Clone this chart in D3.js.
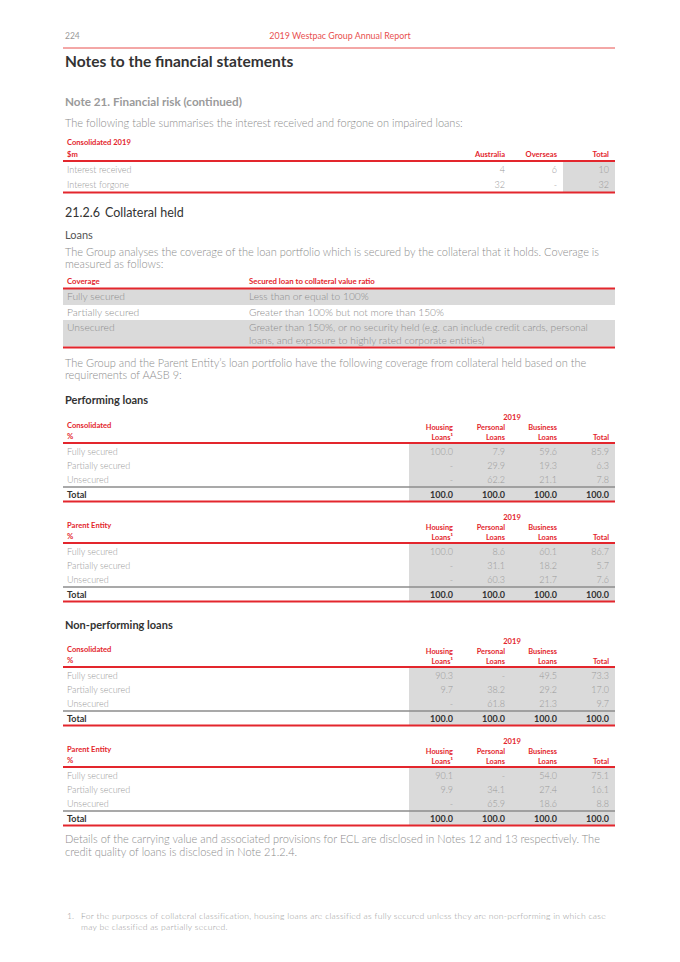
<!DOCTYPE html>
<html>
<head>
<meta charset="utf-8">
<script src="https://cdn.jsdelivr.net/npm/d3@7"></script>
<style>
  body { margin: 0; background: #fff; }
  text { font-family: Lato, "Open Sans", sans-serif; }
</style>
</head>
<body>
<div id="page"></div>
<script>
// Data
//= ================================
var interestCols = ["Australia", "Overseas", "Total"];
var interestRows = ["Interest received", "Interest forgone"];
var interestValues = [[4, 6, 10], [32, null, 32]];

var coverageTypes = ["Fully secured", "Partially secured", "Unsecured"];
var coverageRatios = [
  ["Less than or equal to 100%"],
  ["Greater than 100% but not more than 150%"],
  ["Greater than 150%, or no security held (e.g. can include credit cards, personal",
   "loans, and exposure to highly rated corporate entities)"]
];

var loanCols = ["housing", "personal", "business", "total"];
var loanColHead1 = ["Housing", "Personal", "Business", ""];
var loanColHead2 = ["Loans¹", "Loans", "Loans", "Total"];
var loanRows = ["Fully secured", "Partially secured", "Unsecured"];
var loanTotals = [100.0, 100.0, 100.0, 100.0];

var perfConsolidated = [[100.0, 7.9, 59.6, 85.9], [null, 29.9, 19.3, 6.3], [null, 62.2, 21.1, 7.8]];
var perfParent = [[100.0, 8.6, 60.1, 86.7], [null, 31.1, 18.2, 5.7], [null, 60.3, 21.7, 7.6]];
var npConsolidated = [[90.3, null, 49.5, 73.3], [9.7, 38.2, 29.2, 17.0], [null, 61.8, 21.3, 9.7]];
var npParent = [[90.1, null, 54.0, 75.1], [9.9, 34.1, 27.4, 16.1], [null, 65.9, 18.6, 8.8]];

// Page setup
//= ================================
var pageWidth = 680;
var pageHeight = 962;
var left = 65;
var right = 615;

var RED = "#e3262d";
var BODY = "#8c8c8c";
var ROWS = "#999999";
var DARK = "#333333";
var SHADE = "#dadada";

var svg = d3.select("#page")
  .append("svg")
  .attr("width", pageWidth)
  .attr("height", pageHeight);

function txt(x, y, s, size, color, weight, anchor) {
  return svg.append("text")
    .attr("x", x)
    .attr("y", y)
    .attr("font-size", size)
    .attr("fill", color)
    .attr("font-weight", weight || 400)
    .attr("text-anchor", anchor || "start")
    .text(s);
}

function hline(y, w, color) {
  svg.append("line")
    .attr("x1", left - 2)
    .attr("x2", right)
    .attr("y1", y).attr("y2", y)
    .attr("stroke", color)
    .attr("stroke-width", w);
}

var fmt1 = d3.format(".1f");
function fmtVal(v, f) { return v == null ? "-" : (f ? f(v) : String(v)); }

// Header
txt(left, 39, "224", 8.5, "#999", 400);
txt(340, 39, "2019 Westpac Group Annual Report", 8.9, "#e8504f", 400, "middle");
hline(48, 1, "#e8504f");

txt(left, 67, "Notes to the financial statements", 15.5, DARK, 700);
txt(left, 106, "Note 21. Financial risk (continued)", 11.7, "#9a9a9a", 700);
txt(left, 127, "The following table summarises the interest received and forgone on impaired loans:", 11, BODY, 300);

// Interest table
//= ================================
var xInterest = d3.scaleOrdinal().domain(interestCols).range([505, 557, 609]);
var yInterest = d3.scalePoint().domain(interestRows).range([173, 188]);

svg.append("rect")
  .attr("x", xInterest("Total") - 46).attr("y", 162)
  .attr("width", right - xInterest("Total") + 46).attr("height", 30)
  .attr("fill", SHADE);

txt(left + 2, 145, "Consolidated 2019", 7.6, RED, 700);
txt(left + 2, 157, "$m", 7.6, RED, 700);
interestCols.forEach(function(c) {
  txt(xInterest(c), 157, c, 7.6, RED, 700, "end");
});
hline(161, 2, RED);
interestRows.forEach(function(r, i) {
  txt(left + 2, yInterest(r), r, 9, ROWS, 300);
  interestCols.forEach(function(c, j) {
    txt(xInterest(c), yInterest(r), fmtVal(interestValues[i][j]), 9, ROWS, 300, "end");
  });
});
hline(192.5, 2, RED);

// Collateral held
//= ================================
txt(left, 217, "21.2.6", 12.5, DARK, 400);
txt(105, 217, "Collateral held", 12.5, DARK, 400);
txt(left, 239, "Loans", 11, "#555", 400);
txt(left, 256, "The Group analyses the coverage of the loan portfolio which is secured by the collateral that it holds. Coverage is", 11, BODY, 300);
txt(left, 268, "measured as follows:", 11, BODY, 300);

var coverageBands = [[289, 305], [305, 320], [320, 346.5]];
var shaded = [true, false, true];
coverageTypes.forEach(function(t, i) {
  if (shaded[i]) {
    svg.append("rect")
      .attr("x", left - 2).attr("y", coverageBands[i][0])
      .attr("width", right - left + 2).attr("height", coverageBands[i][1] - coverageBands[i][0])
      .attr("fill", SHADE);
  }
});
txt(left + 2, 284, "Coverage", 7.8, RED, 700);
txt(249, 284, "Secured loan to collateral value ratio", 7.8, RED, 700);
hline(288.5, 2, RED);
coverageTypes.forEach(function(t, i) {
  var yb = coverageBands[i][0] + 11.2;
  txt(left + 2, yb, t, 10.3, BODY, 300);
  coverageRatios[i].forEach(function(line, k) {
    txt(249, yb + k * 12.3, line, 10.2, BODY, 300);
  });
});
hline(347.5, 2, RED);

txt(left, 367, "The Group and the Parent Entity\u2019s loan portfolio have the following coverage from collateral held based on the", 11, BODY, 300);
txt(left, 379, "requirements of AASB 9:", 11, BODY, 300);

// Loan coverage tables
//= ================================
var xLoan = d3.scaleOrdinal().domain(loanCols).range([453, 505, 557, 609]);

function loanTable(y0, entity, values) {
  var yRow = d3.scalePoint().domain(loanRows).range([y0 + 12, y0 + 40]);

  svg.append("rect")
    .attr("x", 409).attr("y", y0 + 1)
    .attr("width", right - 409).attr("height", 57)
    .attr("fill", SHADE);

  txt(512, y0 - 23, "2019", 7.6, RED, 700, "middle");
  txt(left + 2, y0 - 15, entity, 7.6, RED, 700);
  txt(left + 2, y0 - 4, "%", 7.6, RED, 700);
  loanCols.forEach(function(c, j) {
    txt(xLoan(c), y0 - 13.5, loanColHead1[j], 7.4, RED, 700, "end");
    txt(xLoan(c), y0 - 3.5, loanColHead2[j], 7.4, RED, 700, "end");
  });
  hline(y0, 2, RED);

  loanRows.forEach(function(r, i) {
    txt(left + 2, yRow(r), r, 9, ROWS, 300);
    loanCols.forEach(function(c, j) {
      txt(xLoan(c), yRow(r), fmtVal(values[i][j], fmt1), 9, ROWS, 300, "end");
    });
  });

  hline(y0 + 44, 1.5, "#8c8c8c");
  txt(left + 2, y0 + 54.5, "Total", 9, DARK, 700);
  loanCols.forEach(function(c, j) {
    txt(xLoan(c), y0 + 54.5, fmt1(loanTotals[j]), 9, DARK, 700, "end");
  });
  hline(y0 + 58.5, 2, RED);
}

txt(left, 404, "Performing loans", 11, DARK, 700);
loanTable(443, "Consolidated", perfConsolidated);
loanTable(543, "Parent Entity", perfParent);

txt(left, 629, "Non-performing loans", 11, DARK, 700);
loanTable(667, "Consolidated", npConsolidated);
loanTable(767, "Parent Entity", npParent);

txt(left, 843, "Details of the carrying value and associated provisions for ECL are disclosed in Notes 12 and 13 respectively. The", 11, BODY, 300);
txt(left, 856, "credit quality of loans is disclosed in Note 21.2.4.", 11, BODY, 300);

// Footnote
txt(left + 2, 919, "1.", 8.6, "#999", 300);
txt(81, 919, "For the purposes of collateral classification, housing loans are classified as fully secured unless they are non-performing in which case", 8.6, "#999", 300).attr("letter-spacing", 0.25);
txt(81, 930, "may be classified as partially secured.", 8.6, "#999", 300).attr("letter-spacing", 0.25);
</script>
</body>
</html>
